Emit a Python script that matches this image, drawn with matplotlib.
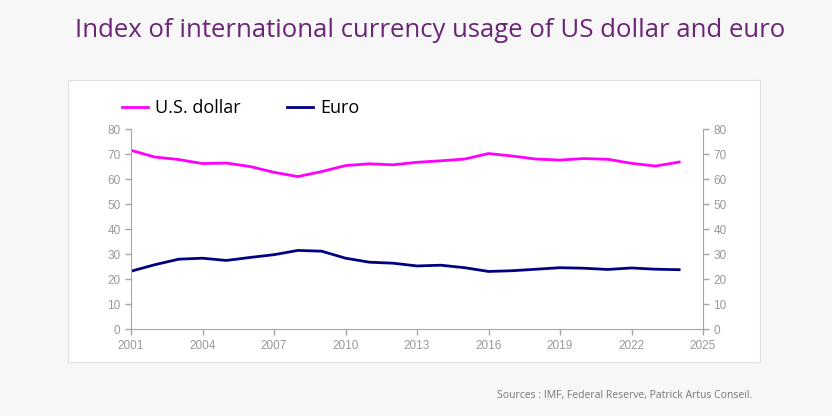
import matplotlib.pyplot as plt
import numpy as np

years = list(range(2001, 2025))
usd = [71.5, 68.8, 67.8, 66.2, 66.4, 65.0, 62.7, 61.0, 63.0, 65.4,
       66.1, 65.7, 66.7, 67.3, 68.0, 70.2, 69.2, 68.0, 67.6, 68.2,
       67.9, 66.3, 65.2, 66.8]
eur = [23.2, 25.8, 28.0, 28.4, 27.5, 28.7, 29.8, 31.5, 31.2, 28.4,
       26.8, 26.4, 25.3, 25.6, 24.6, 23.1, 23.4, 24.0, 24.6, 24.4,
       23.9, 24.5, 24.0, 23.8]
xticks = list(range(2001, 2026, 3))
yticks = list(range(0, 81, 10))

fig = plt.figure(figsize=(8.32, 4.16), dpi=100)
fig.patch.set_facecolor('#f7f7f8')

# white panel behind the chart
bg = fig.add_axes([68 / 832, 1 - 362 / 416, (760 - 68) / 832, (362 - 80) / 416], zorder=0)
bg.set_facecolor('white')
bg.set_xticks([])
bg.set_yticks([])
for s in bg.spines.values():
    s.set_color('#e2e2e2')

fig.text(0.517, 0.926, 'Index of international currency usage of US dollar and euro',
         ha='center', va='center', color='#6b2476', fontsize=18.5, family='Open Sans')

ax = fig.add_axes([131 / 832, 1 - 329.3 / 416, (703 - 131) / 832, (329.3 - 129) / 416], zorder=1)
ax.set_facecolor('none')
ax.plot(years, usd, color='#ff00ff', lw=2, label='U.S. dollar')
ax.plot(years, eur, color='#000080', lw=2, label='Euro')

ax.set_xlim(2001, 2025)
ax.set_ylim(0, 80)
ax.set_xticks(xticks)
ax.set_yticks(yticks)
ax.spines['top'].set_visible(False)
for s in ['left', 'bottom', 'right']:
    ax.spines[s].set_color('#a6a6a6')
ax.tick_params(colors='#a6a6a6', labelcolor='#999999', labelsize=8.5, length=4, width=1)
ax.tick_params(axis='y', right=True, labelright=True)
for lab in ax.get_xticklabels() + ax.get_yticklabels():
    lab.set_family('Liberation Sans')
for lab in ax.yaxis.get_ticklabels(which='both'):
    lab.set_family('Liberation Sans')

leg = ax.legend(loc='center left', bbox_to_anchor=(122 / 832, 1 - 108 / 416),
                bbox_transform=fig.transFigure, ncol=2, frameon=False,
                prop={'family': 'Open Sans', 'size': 13}, handlelength=1.45,
                columnspacing=2.55, handletextpad=0.4, borderpad=0, borderaxespad=0)

fig.text(0.597, 0.043, 'Sources : IMF, Federal Reserve, Patrick Artus Conseil.',
         color='#777777', fontsize=7.5, family='Open Sans')

fig.savefig('out.png', dpi=100, facecolor=fig.get_facecolor())
